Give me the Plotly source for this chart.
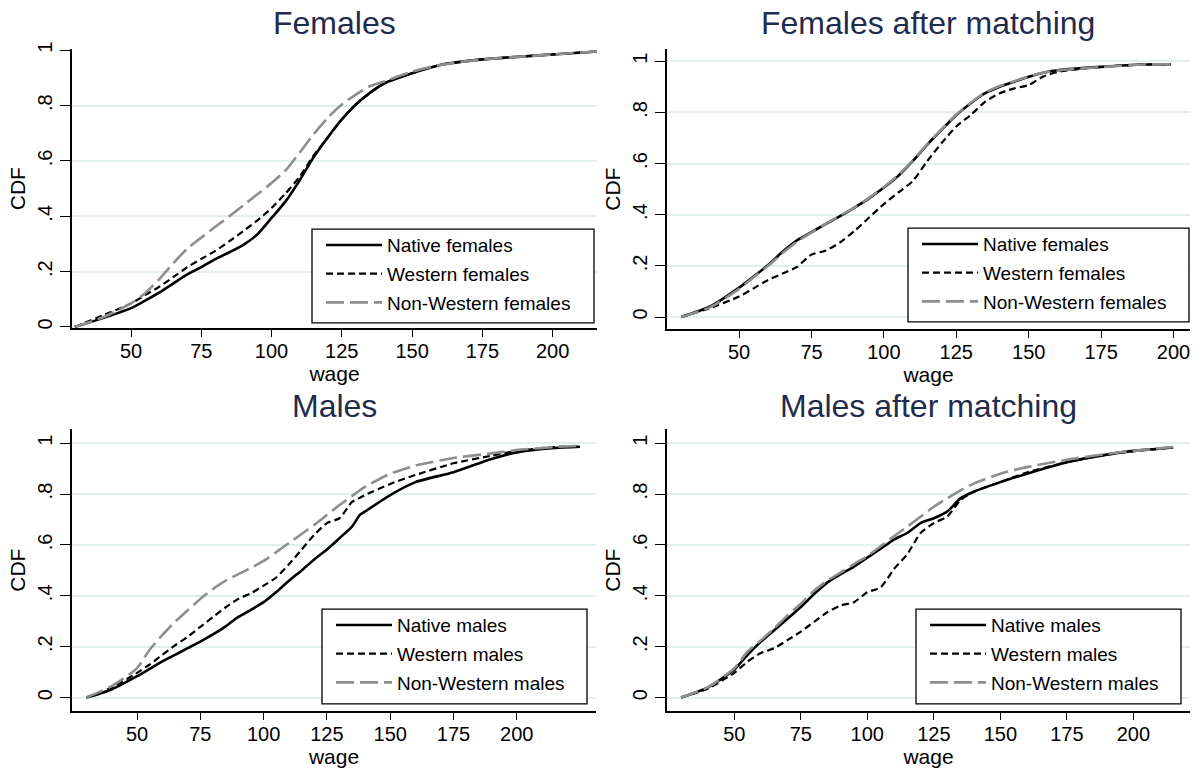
import plotly.graph_objects as go

# ---------------- data ----------------
wage_f = [30, 40, 50, 55, 60, 65, 70, 75, 80, 85, 90, 95, 100, 105, 110, 115, 120,
          125, 130, 135, 140, 150, 160, 175, 190, 200, 216]
native_f = [0, .032, .068, .095, .124, .157, .19, .216, .245, .27, .297, .335, .394, .454, .53,
            .614, .685, .75, .804, .846, .88, .917, .947, .967, .978, .985, .996]
western_f = [0, .042, .085, .115, .145, .18, .216, .246, .275, .31, .347, .385, .43, .483, .543,
             .62, .685, .75, .804, .846, .88, .917, .947, .967, .978, .985, .996]
nonwestern_f = [0, .035, .085, .122, .172, .23, .283, .323, .362, .40, .44, .48, .52, .566, .63,
                .697, .756, .804, .84, .87, .887, .923, .947, .967, .978, .985, .996]

wage_fm = [30, 40, 50, 55, 60, 65, 70, 75, 80, 85, 90, 95, 100, 105, 110, 115, 120, 125,
           130, 135, 140, 145, 150, 155, 160, 175, 190, 199]
native_fm = [0, .041, .115, .158, .203, .255, .30, .332, .364, .395, .429, .465, .506, .552, .61,
             .674, .733, .79, .836, .875, .90, .92, .939, .955, .965, .978, .987, .988]
western_fm = [0, .035, .08, .112, .145, .17, .196, .244, .26, .293, .338, .39, .442, .487, .532,
              .61, .681, .745, .79, .842, .875, .894, .907, .94, .958, .978, .987, .988]
nonwestern_fm = [0, .038, .11, .155, .2, .25, .295, .33, .365, .397, .43, .467, .508, .555, .612,
                 .676, .735, .792, .838, .878, .903, .922, .94, .955, .964, .977, .987, .988]

wage_m = [30, 40, 50, 55, 60, 65, 70, 75, 80, 85, 90, 95, 100, 105, 110, 115, 120, 125, 130,
          135, 138, 140, 150, 160, 175, 190, 200, 215, 225]
native_m = [0, .032, .084, .113, .142, .168, .194, .22, .248, .28, .317, .345, .375, .415, .459,
            .5, .543, .582, .627, .673, .718, .731, .796, .847, .886, .938, .964, .981, .986]
western_m = [0, .04, .097, .13, .168, .205, .239, .278, .317, .355, .388, .41, .44, .472, .524,
             .582, .64, .686, .705, .77, .785, .796, .84, .875, .921, .951, .97, .985, .988]
nonwestern_m = [0, .045, .116, .188, .246, .298, .343, .388, .427, .46, .485, .51, .537, .572,
                .608, .643, .679, .718, .757, .793, .815, .828, .88, .912, .942, .96, .973, .985, .99]

wage_mm = [30, 40, 50, 55, 60, 65, 70, 75, 80, 85, 90, 95, 100, 105, 110, 115, 120, 125, 130,
           135, 140, 150, 160, 175, 190, 200, 215]
native_mm = [0, .039, .11, .168, .22, .265, .31, .356, .407, .453, .485, .515, .55, .585, .621,
             .647, .686, .705, .731, .783, .809, .847, .88, .925, .955, .97, .983]
western_mm = [0, .035, .097, .142, .175, .194, .226, .259, .298, .336, .362, .375, .414, .433,
              .505, .563, .647, .686, .711, .776, .809, .847, .885, .925, .955, .968, .983]
nonwestern_mm = [0, .04, .115, .181, .225, .272, .323, .369, .42, .46, .492, .525, .556, .595,
                 .634, .672, .711, .75, .783, .815, .841, .88, .906, .935, .958, .97, .985]

titles = ["Females", "Females after matching", "Males", "Males after matching"]
names_f = ["Native females", "Western females", "Non-Western females"]
names_m = ["Native males", "Western males", "Non-Western males"]
x_ticks = [50, 75, 100, 125, 150, 175, 200]
y_ticks = [0, 0.2, 0.4, 0.6, 0.8, 1]
y_tick_text = ["0", ".2", ".4", ".6", ".8", "1"]
x_title = "wage"
y_title = "CDF"

# ---------------- layout geometry ----------------
W, H = 1203, 773
FONT = "Liberation Sans, Arial, Helvetica, sans-serif"
TITLE_COLOR = "#1f2c4c"
GRAY = "#8e8e8e"
GRID = "#e3eeee"

panels = [
    dict(wage=wage_f, ys=[native_f, western_f, nonwestern_f], names=names_f,
         px=(72, 597), py=(42, 324), xr=[29.0, 215.8], yr=[-0.003, 1.003],
         box=(312, 224, 594, 319), title_y=15),
    dict(wage=wage_fm, ys=[native_fm, western_fm, nonwestern_fm], names=names_f,
         px=(667, 1190), py=(42, 325), xr=[25.1, 205.7], yr=[-0.046, 1.046],
         box=(908, 223, 1189, 318), title_y=15),
    dict(wage=wage_m, ys=[native_m, western_m, nonwestern_m], names=names_m,
         px=(72, 596), py=(427, 712), xr=[24.3, 231.3], yr=[-0.052, 1.054],
         box=(322, 609, 587, 705), title_y=403),
    dict(wage=wage_mm, ys=[native_mm, western_mm, nonwestern_mm], names=names_m,
         px=(667, 1190), py=(427, 712), xr=[24.7, 221.3], yr=[-0.052, 1.054],
         box=(916, 609, 1181, 705), title_y=403),
]

styles = [
    dict(color="black", width=2.6, dash="solid"),
    dict(color="black", width=2.2, dash="7px,4px"),
    dict(color=GRAY, width=2.6, dash="18px,6px"),
]

fig = go.Figure()
layout = dict(width=W, height=H, margin=dict(l=0, r=0, t=0, b=0),
              paper_bgcolor="white", plot_bgcolor="white",
              font=dict(family=FONT, color="black"),
              shapes=[], annotations=[])

for i, p in enumerate(panels):
    k = i + 1
    xa = "x" if k == 1 else f"x{k}"
    ya = "y" if k == 1 else f"y{k}"
    leg = "legend" if k == 1 else f"legend{k}"
    for j in range(3):
        fig.add_trace(go.Scatter(
            x=p["wage"], y=p["ys"][j], name=p["names"][j], mode="lines",
            line=dict(shape="spline", smoothing=0.6, **styles[j]),
            xaxis=xa, yaxis=ya, legend=leg, legendgroup=f"g{k}_{j}",
            showlegend=True))
    x0, x1 = p["px"]
    y0, y1 = p["py"]
    xd = [x0 / W, x1 / W]
    yd = [1 - y1 / H, 1 - y0 / H]
    layout[f"xaxis{'' if k == 1 else k}"] = dict(
        domain=xd, range=p["xr"], anchor=ya, showline=True, linecolor="black",
        linewidth=1.5, ticks="outside", ticklen=7, tickwidth=1.4, tickcolor="black",
        tickvals=x_ticks, tickfont=dict(size=20, family=FONT, color="black"),
        ticklabelstandoff=-3,
        showgrid=False, zeroline=False,
        title=dict(text=x_title, font=dict(size=21, family=FONT, color="black"), standoff=0))
    layout[f"yaxis{'' if k == 1 else k}"] = dict(
        domain=yd, range=p["yr"], anchor=xa, showline=True, linecolor="black",
        linewidth=1.5, ticks="outside", ticklen=10, tickwidth=1.4, tickcolor="black",
        tickvals=y_ticks, ticktext=y_tick_text, tickangle=-90,
        tickfont=dict(size=20, family=FONT, color="black"),
        showgrid=True, gridcolor=GRID, gridwidth=1.6, zeroline=False,
        title=dict(text=y_title, font=dict(size=21, family=FONT, color="black"), standoff=3))
    bx0, by0, bx1, by1 = p["box"]
    layout["shapes"].append(dict(
        type="rect", xref="paper", yref="paper",
        x0=bx0 / W, x1=bx1 / W, y0=1 - by1 / H, y1=1 - by0 / H,
        line=dict(color="black", width=1.3), fillcolor="white", layer="above"))
    layout[leg] = dict(
        x=(bx0 + 9) / W, y=1 - (by0 - 3) / H, xanchor="left", yanchor="top",
        bgcolor="rgba(0,0,0,0)", borderwidth=0, tracegroupgap=1, itemwidth=56,
        font=dict(size=19, family=FONT, color="black"), traceorder="grouped")
    layout["annotations"].append(dict(
        text=titles[i], xref="paper", yref="paper", x=(x0 + x1) / 2 / W,
        y=1 - p["title_y"] / H, xanchor="center", yanchor="middle", showarrow=False,
        font=dict(size=32, family=FONT, color=TITLE_COLOR)))

fig.update_layout(**layout)
fig.write_html("out.html", config={"displayModeBar": False},
               post_script="document.body.style.margin='0';")
